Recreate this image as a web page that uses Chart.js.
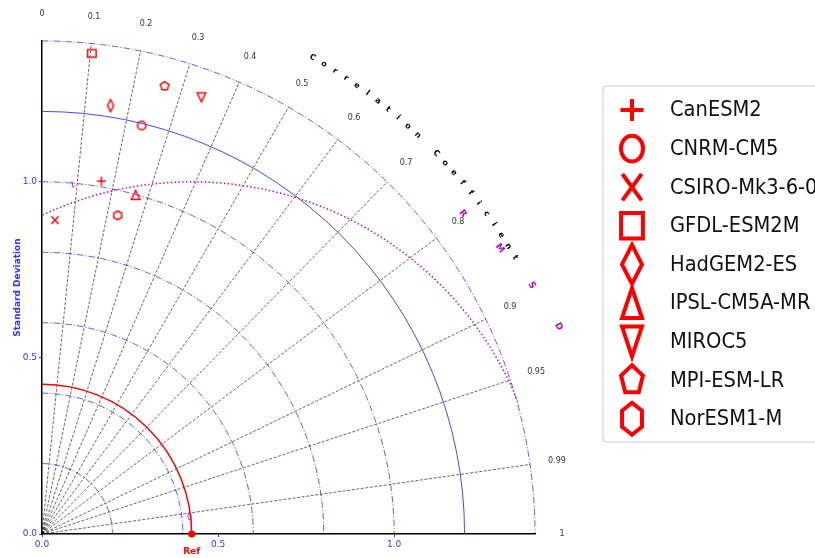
<!DOCTYPE html>
<html>
<head>
<meta charset="utf-8">
<script src="https://cdn.jsdelivr.net/npm/chart.js@4/dist/chart.umd.min.js"></script>
<style>
  html, body { margin: 0; padding: 0; background: #fff; }
  #wrap { width: 815px; height: 558px; position: relative; overflow: hidden; }
</style>
</head>
<body>
<div id="wrap"><canvas id="taylor" width="815" height="558"></canvas></div>
<script>
// Model names and their marker shapes
const models = ['CanESM2', 'CNRM-CM5', 'CSIRO-Mk3-6-0', 'GFDL-ESM2M', 'HadGEM2-ES',
                'IPSL-CM5A-MR', 'MIROC5', 'MPI-ESM-LR', 'NorESM1-M'];
const markerShapes = ['plus', 'circle', 'x', 'square', 'diamond',
                      'triangleUp', 'triangleDown', 'pentagon', 'hexagon'];
// Standard deviation and correlation of each model against the reference
const stdDev   = [1.016, 1.194, 0.892, 1.372, 1.232, 0.999, 1.320, 1.319, 0.930];
const corrCoef = [0.166, 0.237, 0.041, 0.103, 0.158, 0.266, 0.343, 0.264, 0.231];
// Reference (observed) standard deviation
const refStd = 0.425;
// Grid definitions
const stdArcs = [0.2, 0.4, 0.6, 0.8, 1.0, 1.2, 1.4];
const corrTicks = [0, 0.1, 0.2, 0.3, 0.4, 0.5, 0.6, 0.7, 0.8, 0.9, 0.95, 0.99, 1];
const corrTickLabels = ['0', '0.1', '0.2', '0.3', '0.4', '0.5', '0.6', '0.7', '0.8', '0.9', '0.95', '0.99', '1'];
const rmsdLevels = [1.0];
const axisTicks = [0, 0.5, 1.0];
const stdMax = 1.4;

const RED = '#ff0000';
const MAGENTA = '#bf00bf';
const BLUE = '#3333ff';

// Marker outline centred on (cx, cy); hw / hh are half width and half height
function drawMarker(ctx, shape, cx, cy, hw, hh, lw) {
  ctx.save();
  ctx.strokeStyle = RED;
  ctx.lineWidth = lw;
  ctx.lineJoin = 'miter';
  ctx.beginPath();
  const poly = (n) => {
    for (let i = 0; i < n; i++) {
      const a = i * 2 * Math.PI / n;
      const px = cx + hw * Math.sin(a), py = cy - hh * Math.cos(a);
      if (i === 0) ctx.moveTo(px, py); else ctx.lineTo(px, py);
    }
    ctx.closePath();
  };
  switch (shape) {
    case 'plus':
      ctx.moveTo(cx - hw, cy); ctx.lineTo(cx + hw, cy);
      ctx.moveTo(cx, cy - hh); ctx.lineTo(cx, cy + hh);
      break;
    case 'circle':
      ctx.ellipse(cx, cy, hw * 0.92, hh * 0.92, 0, 0, Math.PI * 2);
      break;
    case 'x':
      ctx.moveTo(cx - hw * 0.8, cy - hh * 0.85); ctx.lineTo(cx + hw * 0.8, cy + hh * 0.85);
      ctx.moveTo(cx + hw * 0.8, cy - hh * 0.85); ctx.lineTo(cx - hw * 0.8, cy + hh * 0.85);
      break;
    case 'square':
      ctx.rect(cx - hw * 0.95, cy - hh * 0.85, hw * 1.9, hh * 1.7);
      break;
    case 'diamond':
      ctx.moveTo(cx, cy - hh); ctx.lineTo(cx + hw, cy);
      ctx.lineTo(cx, cy + hh); ctx.lineTo(cx - hw, cy); ctx.closePath();
      break;
    case 'triangleUp':
      ctx.moveTo(cx, cy - hh); ctx.lineTo(cx + hw * 0.95, cy + hh);
      ctx.lineTo(cx - hw * 0.95, cy + hh); ctx.closePath();
      break;
    case 'triangleDown':
      ctx.moveTo(cx, cy + hh); ctx.lineTo(cx + hw * 0.95, cy - hh);
      ctx.lineTo(cx - hw * 0.95, cy - hh); ctx.closePath();
      break;
    case 'pentagon':
      poly(5);
      break;
    case 'hexagon':
      poly(6);
      break;
  }
  ctx.stroke();
  ctx.restore();
}

// Half sizes of the small plot markers
const plotSize = { diamond: [3, 6] };
const legendSize = {
  plus: [11.5, 11], circle: [12, 14], x: [12, 15.5], square: [11.5, 15],
  diamond: [10, 19.5], triangleUp: [10.5, 15], triangleDown: [10.5, 15],
  pentagon: [11.5, 15], hexagon: [11.5, 16]
};

// Small canvases used as Chart.js point styles
function markerCanvas(shape) {
  const c = document.createElement('canvas');
  c.width = 18; c.height = 18;
  const [hw, hh] = plotSize[shape] || [4.5, 4.5];
  drawMarker(c.getContext('2d'), shape, 9, 9, hw, hh, 1.5);
  return c;
}

// Polar (std, corr) -> Cartesian point
function toXY(s, r) {
  return { x: s * r, y: s * Math.sqrt(1 - r * r) };
}

const modelDatasets = models.map((name, i) => ({
  label: name,
  data: [toXY(stdDev[i], corrCoef[i])],
  pointStyle: markerCanvas(markerShapes[i]),
  pointRadius: 6,
  borderColor: RED,
  backgroundColor: RED
}));

const refDataset = {
  label: 'Ref',
  data: [{ x: refStd, y: 0 }],
  pointStyle: 'circle',
  pointRadius: 3.5,
  borderWidth: 0,
  backgroundColor: RED,
  clip: false
};

// Taylor diagram grid, contours and annotations
const taylorPlugin = {
  id: 'taylorPlugin',
  beforeDatasetsDraw(chart) {
    const { ctx, scales: { x, y } } = chart;
    const ox = x.getPixelForValue(0), oy = y.getPixelForValue(0);
    const unit = x.getPixelForValue(1) - ox;
    const R = stdMax * unit;
    ctx.save();

    // standard deviation arcs
    stdArcs.forEach(s => {
      ctx.beginPath();
      ctx.arc(ox, oy, s * unit, -Math.PI / 2, 0);
      if (s === 1.2) {
        ctx.setLineDash([]);
        ctx.strokeStyle = 'rgba(40,40,255,0.85)';
      } else {
        ctx.setLineDash([6.5, 2, 1.2, 2]);
        ctx.strokeStyle = 'rgba(40,40,255,0.75)';
      }
      ctx.lineWidth = 1;
      ctx.stroke();
    });

    // correlation rays
    ctx.setLineDash([3, 1.6]);
    ctx.strokeStyle = 'rgba(0,0,0,0.75)';
    ctx.lineWidth = 0.8;
    corrTicks.forEach(c => {
      if (c === 0 || c === 1) return;
      const a = Math.acos(c);
      ctx.beginPath();
      ctx.moveTo(ox, oy);
      ctx.lineTo(ox + R * Math.cos(a), oy - R * Math.sin(a));
      ctx.stroke();
    });

    // reference standard deviation arc
    ctx.setLineDash([]);
    ctx.strokeStyle = RED;
    ctx.lineWidth = 1.5;
    ctx.beginPath();
    ctx.arc(ox, oy, refStd * unit, -Math.PI / 2, 0);
    ctx.stroke();

    // centred RMS difference contours, clipped to the quarter disc
    ctx.save();
    ctx.beginPath();
    ctx.moveTo(ox, oy);
    ctx.arc(ox, oy, R + 1, -Math.PI / 2, 0);
    ctx.closePath();
    ctx.clip();
    ctx.setLineDash([1.4, 2.4]);
    ctx.strokeStyle = MAGENTA;
    ctx.lineWidth = 1.5;
    rmsdLevels.forEach(lv => {
      ctx.beginPath();
      ctx.arc(ox + refStd * unit, oy, lv * unit, -Math.PI, 0);
      ctx.stroke();
    });
    ctx.restore();

    ctx.restore();
  },
  afterDraw(chart) {
    const { ctx, scales: { x, y } } = chart;
    const ox = x.getPixelForValue(0), oy = y.getPixelForValue(0);
    const unit = x.getPixelForValue(1) - ox;
    ctx.save();
    ctx.textAlign = 'center';
    ctx.textBaseline = 'middle';

    // correlation tick labels
    ctx.fillStyle = '#333';
    ctx.font = '8px "DejaVu Sans"';
    const rl = 1.477 * unit;
    corrTicks.forEach((c, i) => {
      const a = Math.acos(c);
      ctx.fillText(corrTickLabels[i], ox + rl * Math.cos(a), oy - rl * Math.sin(a));
    });

    // curved axis title
    const title = 'Correlation Coefficient';
    ctx.fillStyle = '#000';
    ctx.font = 'bold 8px "DejaVu Sans"';
    const rt = 1.556 * unit;
    for (let i = 0; i < title.length; i++) {
      const th = (60.4 - i * 1.368) * Math.PI / 180;
      ctx.save();
      ctx.translate(ox + rt * Math.cos(th), oy - rt * Math.sin(th));
      ctx.rotate(Math.PI / 2 - th);
      ctx.fillText(title[i], 0, 0);
      ctx.restore();
    }

    // RMSD label letters
    ctx.fillStyle = MAGENTA;
    ctx.font = 'bold 9px "DejaVu Sans"';
    const rmsdLetters = [['R', 1.195, 0.910, 50], ['M', 1.300, 0.811, 52],
                         ['S', 1.391, 0.706, 56], ['D', 1.467, 0.589, 60]];
    rmsdLetters.forEach(([ch, dx, dy, rot]) => {
      ctx.save();
      ctx.translate(x.getPixelForValue(dx), y.getPixelForValue(dy));
      ctx.rotate(rot * Math.PI / 180);
      ctx.fillText(ch, 0, 0);
      ctx.restore();
    });

    // contour labels
    ctx.font = '8px "DejaVu Sans"';
    ctx.save();
    ctx.translate(x.getPixelForValue(0.087), y.getPixelForValue(0.990));
    ctx.rotate(-10 * Math.PI / 180);
    ctx.fillText('1', 0, 0);
    ctx.restore();
    ctx.fillText('0', x.getPixelForValue(0.419), y.getPixelForValue(0.047));

    // reference label
    ctx.fillStyle = RED;
    ctx.font = 'bold 9px "DejaVu Sans"';
    ctx.fillText('Ref', x.getPixelForValue(refStd), oy + 18);

    // legend
    const lx = 603, ly = 86, lw = 240, lh = 356;
    ctx.beginPath();
    ctx.roundRect(lx, ly, lw, lh, 4);
    ctx.fillStyle = '#fff';
    ctx.fill();
    ctx.strokeStyle = '#cccccc';
    ctx.lineWidth = 1;
    ctx.stroke();
    ctx.textAlign = 'left';
    ctx.font = '20.5px "DejaVu Sans"';
    models.forEach((name, i) => {
      const cy = 110 + i * 38.6;
      const [hw, hh] = legendSize[markerShapes[i]];
      drawMarker(ctx, markerShapes[i], 632, cy, hw, hh, 4);
      ctx.save();
      ctx.fillStyle = '#111';
      ctx.translate(670, cy + 1);
      ctx.scale(0.95, 1);
      ctx.fillText(name, 0, 0);
      ctx.restore();
    });

    ctx.restore();
  }
};

const tickStyle = {
  color: BLUE,
  font: { family: 'DejaVu Sans', size: 9 },
  callback: v => Number(v).toFixed(1)
};

new Chart(document.getElementById('taylor'), {
  type: 'scatter',
  data: { datasets: [...modelDatasets, refDataset] },
  options: {
    responsive: false,
    animation: false,
    devicePixelRatio: 1,
    layout: { padding: { top: 41, right: 280, left: 0, bottom: 0 } },
    plugins: {
      legend: { display: false },
      tooltip: { enabled: false },
      title: { display: false }
    },
    scales: {
      x: {
        type: 'linear',
        min: 0, max: stdMax,
        afterBuildTicks: s => { s.ticks = axisTicks.map(v => ({ value: v })); },
        afterFit: s => { s.height = 24; },
        ticks: { ...tickStyle, padding: 2 },
        grid: { display: true, drawOnChartArea: false, drawTicks: true, tickLength: 3, color: BLUE },
        border: { display: true, color: '#000', width: 1.5 }
      },
      y: {
        type: 'linear',
        min: 0, max: stdMax,
        afterBuildTicks: s => { s.ticks = axisTicks.map(v => ({ value: v })); },
        afterFit: s => { s.width = 42; },
        ticks: { ...tickStyle, padding: 2 },
        grid: { display: true, drawOnChartArea: false, drawTicks: true, tickLength: 3, color: BLUE },
        border: { display: true, color: '#000', width: 1.5 },
        title: {
          display: true,
          text: 'Standard Deviation',
          color: BLUE,
          font: { family: 'DejaVu Sans', size: 9, weight: 'bold' },
          padding: { top: 12, bottom: 0 }
        }
      }
    }
  },
  plugins: [taylorPlugin]
});
</script>
</body>
</html>
